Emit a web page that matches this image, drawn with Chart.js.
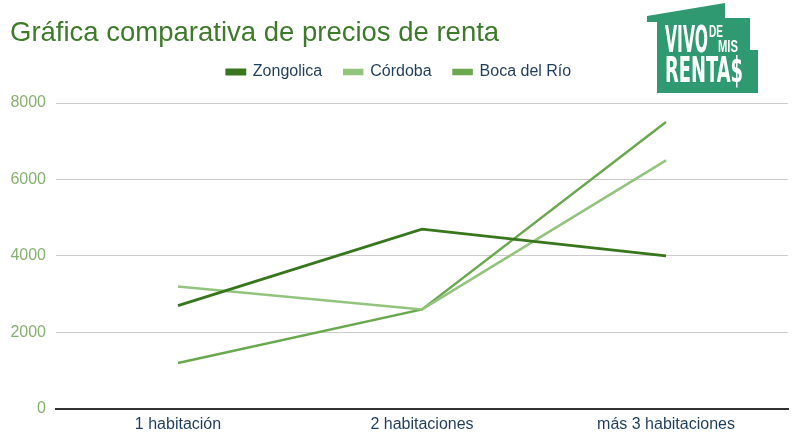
<!DOCTYPE html>
<html>
<head>
<meta charset="utf-8">
<script src="https://cdn.jsdelivr.net/npm/chart.js@4.4.1/dist/chart.umd.min.js"></script>
<style>
  html, body { margin: 0; padding: 0; background: #fff; }
  #wrap { position: relative; width: 798px; height: 445px; }
  #logo { position: absolute; left: 645px; top: 0px; }
</style>
</head>
<body>
<div id="wrap">
  <canvas id="rentChart" width="798" height="445"></canvas>
  <svg id="logo" width="118" height="96" viewBox="0 0 118 96">
    <polygon points="2,16 80,3 80,18 105,18 105,50 113,50 113,93 12,93 12,22 2,22" fill="#2f9a72"/>
    <text x="20" y="52" font-family="Liberation Sans Narrow, DejaVu Sans Condensed, sans-serif" font-weight="bold" font-size="37" fill="#fff" textLength="43" lengthAdjust="spacingAndGlyphs">VIVO</text>
    <text x="64" y="37" font-family="Liberation Sans Narrow, sans-serif" font-weight="bold" font-size="16" fill="#fff" textLength="14" lengthAdjust="spacingAndGlyphs">DE</text>
    <text x="73" y="52" font-family="Liberation Sans Narrow, sans-serif" font-weight="bold" font-size="16" fill="#fff" textLength="20" lengthAdjust="spacingAndGlyphs">MIS</text>
    <text x="20" y="82" font-family="Liberation Sans Narrow, DejaVu Sans Condensed, sans-serif" font-weight="bold" font-size="35" fill="#fff" textLength="78" lengthAdjust="spacingAndGlyphs">RENTA$</text>
  </svg>
</div>
<script>
var categories = ['1 habitación', '2 habitaciones', 'más 3 habitaciones'];
var zongolica = [2700, 4700, 4000];
var cordoba = [3200, 2600, 6500];
var bocaDelRio = [1200, 2600, 7500];
var yTicks = [0, 2000, 4000, 6000, 8000];

// push the plot down a little below the legend
var legendGap = {
    id: 'legendGap',
    beforeInit: function (chart) {
        var origFit = chart.legend.fit;
        chart.legend.fit = function () {
            origFit.bind(chart.legend)();
            this.height += 13;
        };
    }
};

var ctx = document.getElementById('rentChart');
var rentChart = new Chart(ctx, {
    type: 'line',
    data: {
        labels: categories,
        datasets: [{
            label: 'Zongolica',
            data: zongolica,
            borderColor: '#38761d',
            backgroundColor: '#38761d',
            borderWidth: 2.8
        }, {
            label: 'Córdoba',
            data: cordoba,
            borderColor: '#93c47d',
            backgroundColor: '#93c47d',
            borderWidth: 2.5
        }, {
            label: 'Boca del Río',
            data: bocaDelRio,
            borderColor: '#6aa84f',
            backgroundColor: '#6aa84f',
            borderWidth: 2.5
        }]
    },
    plugins: [legendGap],
    options: {
        responsive: false,
        animation: false,
        layout: {
            padding: { left: 10, right: 10, top: 17, bottom: 5 }
        },
        elements: {
            point: { radius: 0 },
            line: { tension: 0 }
        },
        plugins: {
            title: {
                display: true,
                text: 'Gráfica comparativa de precios de renta',
                align: 'start',
                color: '#3d7a2a',
                font: { family: 'Liberation Sans, Arial, sans-serif', size: 27.5, weight: 'normal' },
                padding: { top: 0, bottom: -8 }
            },
            legend: {
                display: true,
                position: 'top',
                labels: {
                    boxWidth: 18,
                    boxHeight: 4,
                    color: '#1f3d5c',
                    font: { family: 'Liberation Sans, Arial, sans-serif', size: 16 },
                    padding: 22
                }
            },
            tooltip: { enabled: false }
        },
        scales: {
            x: {
                offset: true,
                grid: { display: false, drawTicks: false },
                border: { color: '#333', width: 2 },
                ticks: {
                    color: '#1f3d5c',
                    font: { family: 'Liberation Sans, Arial, sans-serif', size: 16 },
                    padding: 6
                }
            },
            y: {
                min: 0,
                max: 8000,
                afterBuildTicks: function (axis) {
                    axis.ticks = yTicks.map(function (v) { return { value: v }; });
                },
                afterFit: function (axis) {
                    axis.width = 46;
                },
                grid: { color: '#cccccc', drawTicks: false },
                border: { display: false },
                ticks: {
                    color: '#86b06f',
                    font: { family: 'Liberation Sans, Arial, sans-serif', size: 16 },
                    padding: 10,
                    callback: function (v) { return String(v); }
                }
            }
        }
    }
});
</script>
</body>
</html>
